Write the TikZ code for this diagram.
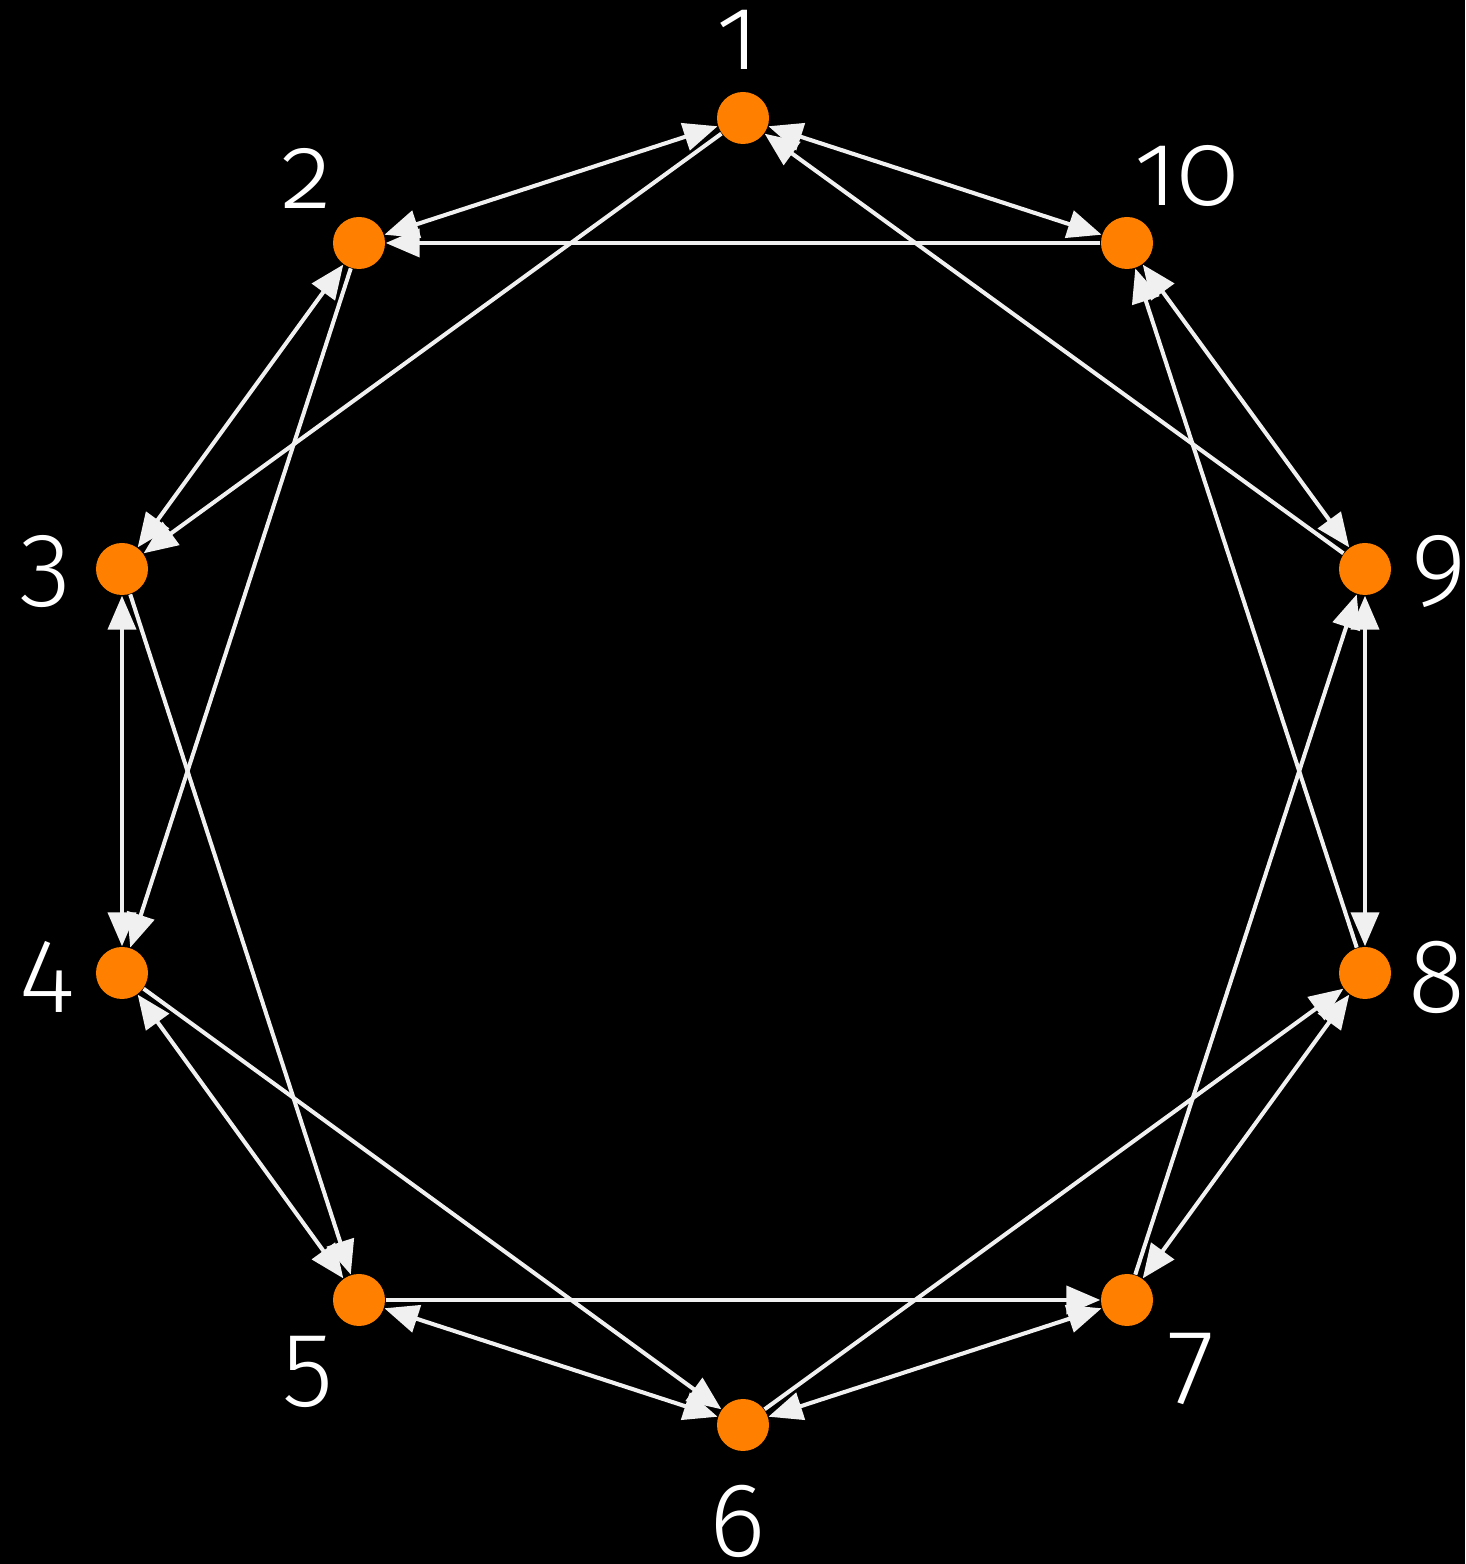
\documentclass[tikz,border=0pt]{standalone}
\usepackage{fontspec}
\setmainfont{Fira Sans Light}[Numbers=OldStyle]
\usepackage{tikz}
\usetikzlibrary{arrows.meta}
\usepackage{xcolor}
\definecolor{vertexorange}{HTML}{FF8000}
\definecolor{arrowgray}{HTML}{F0F0F0}

\begin{document}
\begin{tikzpicture}[
    vertex/.style={circle, fill=vertexorange, inner sep=0pt, minimum size=0.52cm},
    num/.style={text=white, inner sep=0pt, font=\fontsize{30}{36}\selectfont},
    oneway/.style={draw=arrowgray, line width=1.15pt, -{Triangle[length=0.34cm, width=0.28cm]}},
    twoway/.style={draw=arrowgray, line width=1.15pt, {Triangle[length=0.34cm, width=0.28cm]}-{Triangle[length=0.34cm, width=0.28cm]}}
]
    % Background
    \fill[black] (0,0) rectangle (14.65,15.64);
    \useasboundingbox (0,0) rectangle (14.65,15.64);

    % Vertices
    \node[vertex] (v1) at (7.43,14.46) {};
    \node[vertex] (v2) at (3.59,13.21) {};
    \node[vertex] (v3) at (1.22,9.95) {};
    \node[vertex] (v4) at (1.22,5.91) {};
    \node[vertex] (v5) at (3.59,2.64) {};
    \node[vertex] (v6) at (7.43,1.39) {};
    \node[vertex] (v7) at (11.27,2.64) {};
    \node[vertex] (v8) at (13.65,5.91) {};
    \node[vertex] (v9) at (13.65,9.95) {};
    \node[vertex] (v10) at (11.27,13.21) {};

    % Labels
    \node[num] (l1) at (7.38,15.24) {1};
    \node[num] (l2) at (3.07,13.86) {2};
    \node[num] (l3) at (0.45,9.92) {3};
    \node[num] (l4) at (0.46,5.87) {4};
    \node[num] (l5) at (3.08,1.92) {5};
    \node[num] (l6) at (7.38,0.43) {6};
    \node[num] (l7) at (11.92,1.95) {7};
    \node[num] (l8) at (14.37,5.87) {8};
    \node[num] (l9) at (14.39,9.92) {9};
    \node[num] (l10) at (11.87,13.88) {10};

    % Neighbours, both directions
    \draw[twoway] (v1) -- (v2);
    \draw[twoway] (v2) -- (v3);
    \draw[twoway] (v3) -- (v4);
    \draw[twoway] (v4) -- (v5);
    \draw[twoway] (v5) -- (v6);
    \draw[twoway] (v6) -- (v7);
    \draw[twoway] (v7) -- (v8);
    \draw[twoway] (v8) -- (v9);
    \draw[twoway] (v9) -- (v10);
    \draw[twoway] (v10) -- (v1);

    % Skip one
    \draw[oneway] (v1) -- (v3);
    \draw[oneway] (v2) -- (v4);
    \draw[oneway] (v3) -- (v5);
    \draw[oneway] (v4) -- (v6);
    \draw[oneway] (v5) -- (v7);
    \draw[oneway] (v6) -- (v8);
    \draw[oneway] (v7) -- (v9);
    \draw[oneway] (v8) -- (v10);
    \draw[oneway] (v9) -- (v1);
    \draw[oneway] (v10) -- (v2);
\end{tikzpicture}
\end{document}
